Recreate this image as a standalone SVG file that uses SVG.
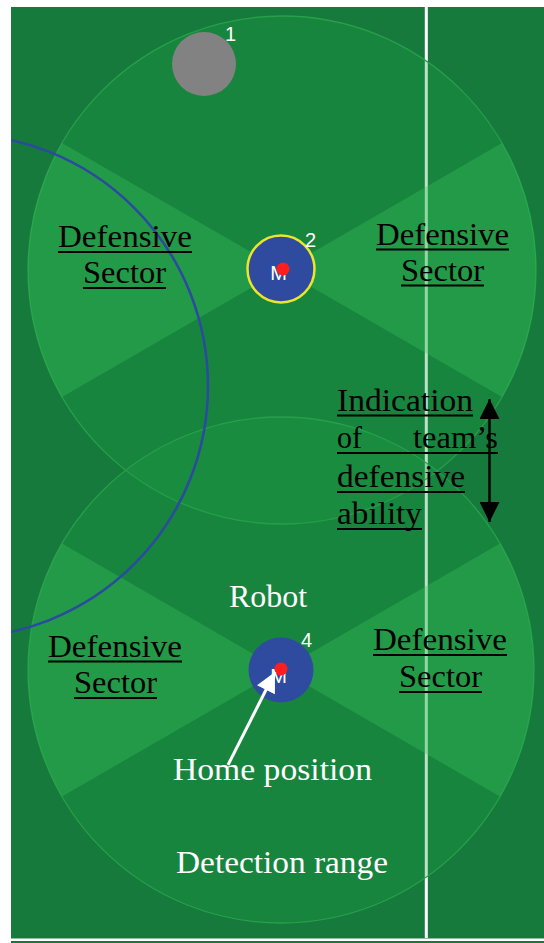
<svg xmlns="http://www.w3.org/2000/svg" width="544" height="943" viewBox="0 0 544 943">
<style>
.det{fill:#1ea046;fill-opacity:0.3;stroke:#27a04b;stroke-width:1.3}
.sec{fill:#3cc35a;fill-opacity:0.34}
.lbl{font-family:"Liberation Serif","DejaVu Serif",serif;font-size:31px;fill:#000}
.wl{font-family:"Liberation Serif","DejaVu Serif",serif;font-size:31px;fill:#fff}
.num{font-family:"Liberation Sans",Arial,sans-serif;font-size:20px;fill:#fff}
.ul{stroke:#000;stroke-width:2.2}
.bot{fill:#2f4ba0}
.dot{fill:#ff1e1e}
</style>
<defs>
<clipPath id="fieldClip"><rect x="11" y="7" width="533" height="931"/></clipPath>
<marker id="blk" viewBox="0 0 20 20" refX="20" refY="10" markerWidth="20" markerHeight="20" markerUnits="userSpaceOnUse" orient="auto-start-reverse"><path d="M0,0 L20,10 L0,20 z" fill="#000"/></marker>
<marker id="wht" viewBox="0 0 20 20" refX="20" refY="10" markerWidth="20" markerHeight="20" markerUnits="userSpaceOnUse" orient="auto"><path d="M0,0 L20,10 L0,20 z" fill="#fff"/></marker>
</defs>
<rect width="544" height="943" fill="#fff"/>
<g id="field">
<rect x="11" y="7" width="533" height="936" fill="#167a3c"/>
<rect x="424.8" y="7" width="3" height="931" fill="#fff"/>
<rect x="11" y="938.5" width="533" height="2.5" fill="#fff"/>
</g>
<g id="detection-top">
<circle class="det" cx="282" cy="270" r="254"/>
<path class="sec" d="M282,270 L62,143 A254,254 0 0 0 62,397 Z"/>
<path class="sec" d="M282,270 L502,143 A254,254 0 0 1 502,397 Z"/>
</g>
<g id="detection-bottom">
<circle class="det" cx="281" cy="670" r="253"/>
<path class="sec" d="M281,670 L62,543.5 A253,253 0 0 0 62,796.5 Z"/>
<path class="sec" d="M281,670 L500,543.5 A253,253 0 0 1 500,796.5 Z"/>
</g>
<g id="boundary" clip-path="url(#fieldClip)">
<circle cx="-44" cy="386" r="252" fill="none" stroke="#2b4aa0" stroke-width="2.5"/>
</g>
<g id="robot1">
<circle cx="204" cy="64" r="32" fill="#828282"/>
<text class="num" x="225" y="41">1</text>
</g>
<g id="robot2">
<circle class="bot" cx="281" cy="269" r="33.5" stroke="#ece62a" stroke-width="2.5"/>
<text class="num" x="278.5" y="280" text-anchor="middle">M</text>
<circle class="dot" cx="283" cy="269" r="6.5"/>
<text class="num" x="305" y="247">2</text>
</g>
<g id="robot4">
<circle class="bot" cx="281" cy="670" r="32.5"/>
<text class="num" x="278.5" y="683" text-anchor="middle">M</text>
<circle class="dot" cx="281" cy="669" r="6.5"/>
<text class="num" x="301" y="647">4</text>
</g>
<g id="label-tl">
<text class="lbl" x="58" y="247" textLength="134" lengthAdjust="spacingAndGlyphs">Defensive</text>
<text class="lbl" x="83" y="283" textLength="83" lengthAdjust="spacingAndGlyphs">Sector</text>
<line class="ul" x1="58" y1="252" x2="192" y2="252"/>
<line class="ul" x1="83" y1="288" x2="166" y2="288"/>
</g>
<g id="label-tr">
<text class="lbl" x="376" y="245" textLength="133" lengthAdjust="spacingAndGlyphs">Defensive</text>
<text class="lbl" x="401" y="281" textLength="83" lengthAdjust="spacingAndGlyphs">Sector</text>
<line class="ul" x1="376" y1="249.5" x2="509" y2="249.5"/>
<line class="ul" x1="401" y1="285.5" x2="484" y2="285.5"/>
</g>
<g id="label-bl">
<text class="lbl" x="48" y="657" textLength="134" lengthAdjust="spacingAndGlyphs">Defensive</text>
<text class="lbl" x="74" y="693" textLength="83" lengthAdjust="spacingAndGlyphs">Sector</text>
<line class="ul" x1="48" y1="661.5" x2="182" y2="661.5"/>
<line class="ul" x1="74" y1="698" x2="157" y2="698"/>
</g>
<g id="label-br">
<text class="lbl" x="373" y="650" textLength="134" lengthAdjust="spacingAndGlyphs">Defensive</text>
<text class="lbl" x="399" y="687" textLength="83" lengthAdjust="spacingAndGlyphs">Sector</text>
<line class="ul" x1="373" y1="655" x2="507" y2="655"/>
<line class="ul" x1="399" y1="692" x2="482" y2="692"/>
</g>
<g id="label-indication">
<text class="lbl" x="337" y="411" textLength="136" lengthAdjust="spacingAndGlyphs">Indication</text>
<text class="lbl" x="337" y="448" textLength="25" lengthAdjust="spacingAndGlyphs">of</text>
<text class="lbl" x="413" y="448" textLength="85" lengthAdjust="spacingAndGlyphs">team’s</text>
<text class="lbl" x="337" y="487" textLength="128" lengthAdjust="spacingAndGlyphs">defensive</text>
<text class="lbl" x="337" y="524" textLength="85" lengthAdjust="spacingAndGlyphs">ability</text>
<line class="ul" x1="337" y1="415.5" x2="473" y2="415.5"/>
<line class="ul" x1="337" y1="453" x2="498" y2="453"/>
<line class="ul" x1="337" y1="492" x2="465" y2="492"/>
<line class="ul" x1="337" y1="529" x2="422" y2="529"/>
</g>
<g id="label-robot"><text class="wl" x="229" y="607" textLength="78" lengthAdjust="spacingAndGlyphs">Robot</text></g>
<g id="label-home"><text class="wl" x="173" y="780" textLength="199" lengthAdjust="spacingAndGlyphs">Home position</text></g>
<g id="label-range"><text class="wl" x="176" y="873" textLength="212" lengthAdjust="spacingAndGlyphs">Detection range</text></g>
<g id="connectors">
<line x1="489.5" y1="399" x2="489.5" y2="522" stroke="#000" stroke-width="2.5" marker-start="url(#blk)" marker-end="url(#blk)"/>
<line x1="228" y1="765" x2="275" y2="672" stroke="#fff" stroke-width="3" marker-end="url(#wht)"/>
</g>
</svg>
